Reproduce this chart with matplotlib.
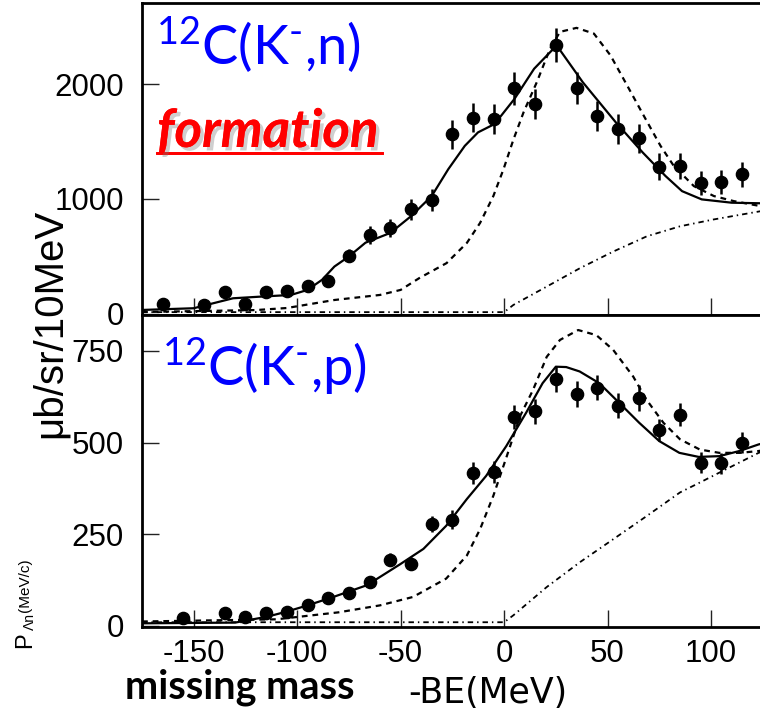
import matplotlib
matplotlib.use("Agg")
import matplotlib.pyplot as plt
import matplotlib.patheffects as pe
from matplotlib.lines import Line2D

plt.rcParams["font.family"] = ["Liberation Sans", "DejaVu Sans"]
plt.rcParams["mathtext.fontset"] = "custom"
plt.rcParams["mathtext.rm"] = "Lato"
plt.rcParams["mathtext.it"] = "Lato:italic"
plt.rcParams["mathtext.bf"] = "Lato:bold"

# ---------------- 12C(K-,n) spectrum ----------------
n_be = [-165, -145, -135, -125, -115, -105, -95, -85, -75, -65, -55, -45, -35,
        -25, -15, -5, 5, 15, 25, 35, 45, 55, 65, 75, 85, 95, 105, 115]
n_xs = [83, 75, 191, 83, 191, 200, 244, 285, 504, 686, 747, 908, 989,
        1563, 1709, 1697, 1967, 1829, 2340, 1967, 1726, 1610, 1528, 1282, 1288,
        1136, 1147, 1215]
n_err = [40, 40, 40, 40, 40, 40, 45, 45, 55, 75, 75, 90, 95,
         128, 128, 130, 143, 130, 148, 140, 132, 132, 123, 117, 114,
         105, 105, 110]

n_fit_be = [-175, -150, -142, -131, -118, -103, -95, -88, -82, -75, -67, -55,
            -45, -35, -27, -19, -12.6, -4.6, 5, 14.5, 25.4, 38, 54, 67, 78, 86,
            95.5, 110, 124, 143]
n_fit = [31, 46, 83, 133, 147, 162, 206, 294, 410, 498, 618, 703,
         849, 1025, 1259, 1463, 1581, 1654, 1873, 2136, 2340, 2019, 1668, 1405,
         1200, 1068, 996, 967, 962, 960]

n_qf_be = [-175, -120, -105, -82, -60, -50, -41, -27.8, -18, -11.6, -5.2, -0.3,
           4.5, 9.4, 15.8, 22.2, 27, 35, 43.4, 51.4, 59.5, 67.5, 75.6, 82,
           91.7, 101.4, 111, 124, 143]
n_qf = [13, 30, 48, 118, 162, 206, 309, 440, 616, 791, 1025, 1259,
        1518, 1756, 2019, 2311, 2458, 2493, 2443, 2253, 1989, 1726, 1463, 1288,
        1112, 1025, 981, 937, 920]

n_bg_be = [-175, -100, 0, 4.5, 20.6, 36.7, 52.9, 69, 85, 101, 124, 143]
n_bg = [12, 12, 12, 75, 235, 396, 542, 674, 761, 820, 893, 950]

# ---------------- 12C(K-,p) spectrum ----------------
p_be = [-155, -135, -125, -115, -105, -95, -85, -75, -65, -55, -45, -35, -25,
        -15, -5, 5, 15, 25, 35, 45, 55, 65, 75, 85, 95, 105, 115]
p_xs = [22, 34, 25, 34, 37, 56, 75, 91, 120, 181, 170, 278, 290,
        416, 420, 570, 585, 673, 633, 650, 601, 622, 534, 576, 445, 443, 500]
p_err = [12, 12, 12, 12, 12, 12, 14, 14, 15, 18, 18, 22, 25,
         30, 30, 32, 33, 35, 35, 35, 33, 35, 30, 32, 28, 28, 28]

p_fit_be = [-175, -130, -114.6, -105, -95, -82.5, -66.3, -50.3, -39, -28, -18,
            -8.7, 1, 10.6, 18.6, 25, 30, 36.5, 46, 55.7, 65.3, 75, 84.7, 94, 104,
            113.7, 123, 143]
p_fit = [7, 9, 25, 39, 56, 79, 111, 168, 210, 273, 346,
         409, 490, 581, 662, 707, 706, 694, 662, 608, 554, 504, 472, 461, 463,
         477, 495, 522]

p_qf_be = [-175, -110, -80, -60, -44, -28, -18, -11.6, -5.2, 1.3, 7.7, 14,
           20.6, 27, 35.8, 44.6, 52.7, 62.4, 68.8, 77, 85, 94.6, 104, 114, 123, 143]
p_qf = [12, 18, 37, 56, 79, 129, 192, 264, 355, 463, 572, 644,
        734, 780, 807, 793, 753, 680, 617, 554, 509, 481, 472, 472, 477, 495]

p_bg_be = [-175, -100, 0, 4.5, 20.6, 36.7, 52.9, 69, 85, 94.6, 104, 123, 143]
p_bg = [10, 10, 10, 29, 106, 174, 237, 300, 364, 391, 418, 472, 509]

x_ticks = [-150, -100, -50, 0, 50, 100]
x_ticklabels = ["-150", "-100", "-50", "0", "50", "100"]
n_yticks = [0, 1000, 2000]
p_yticks = [0, 250, 500, 750]

W, H = 760, 714
fig = plt.figure(figsize=(W / 100, H / 100), dpi=100)


def px_box(x0, y0, x1, y1):
    return [x0 / W, 1 - y1 / H, (x1 - x0) / W, (y1 - y0) / H]


def fx(x):
    return x / W


def fy(y):
    return 1 - y / H


ax_n = fig.add_axes(px_box(142, 3, 800, 315))
ax_p = fig.add_axes(px_box(142, 315, 800, 627))

for ax in (ax_n, ax_p):
    ax.set_xlim(-175, 143)
    for s in ax.spines.values():
        s.set_linewidth(2.0)
    ax.tick_params(direction="in", length=12, width=1.0, labelsize=22.5,
                   pad=13, color="#222222")
    ax.set_xticks(x_ticks)


def draw(ax, be, xs, err, fb, fv, qb, qv, bb, bv):
    ax.plot(fb, fv, color="black", lw=1.6, solid_joinstyle="round", zorder=3)
    ax.plot(qb, qv, color="black", lw=1.6, linestyle=(0, (2.6, 2.2)), zorder=3)
    ax.plot(bb, bv, color="black", lw=1.3, linestyle=(0, (3.0, 2.2, 0.8, 2.2)),
            zorder=3)
    ax.errorbar(be, xs, yerr=err, fmt="o", color="black", ms=8.8,
                elinewidth=1.8, capsize=0, zorder=4)


draw(ax_n, n_be, n_xs, n_err, n_fit_be, n_fit, n_qf_be, n_qf, n_bg_be, n_bg)
draw(ax_p, p_be, p_xs, p_err, p_fit_be, p_fit, p_qf_be, p_qf, p_bg_be, p_bg)

ax_n.set_ylim(-13, 2710)
ax_n.set_yticks(n_yticks)
ax_n.tick_params(axis="x", labelbottom=False)

ax_p.set_ylim(-3, 848)
ax_p.set_yticks(p_yticks)
ax_p.set_xticklabels(x_ticklabels)
ax_p.tick_params(axis="x", pad=9)

# reaction labels
fig.text(fx(156), fy(65), r"$^{12}$C(K$^{\text{-}}$,n)", color="#0000ff",
         fontsize=39, family="Lato", va="baseline")
fig.text(fx(162), fy(386), r"$^{12}$C(K$^{\text{-}}$,p)", color="#0000ff",
         fontsize=39, family="Lato", va="baseline")

# "formation" tag with soft shadow and underline
shadow = [pe.withSimplePatchShadow(offset=(2.5, -2.5), shadow_rgbFace="#777777",
                                   alpha=0.35), pe.Normal()]
fig.text(fx(157), fy(147), "formation", color="#ff0000", fontsize=38,
         family="Lato", weight="bold", style="italic", va="baseline",
         path_effects=shadow)
fig.add_artist(Line2D([fx(157), fx(382)], [fy(153), fy(153)],
                      color="#ff0000", lw=2.0, transform=fig.transFigure,
                      path_effects=shadow))

# shared y label
fig.text(fx(50), fy(323), "μb/sr/10MeV", rotation=90, fontsize=29,
         ha="center", va="center")

# x labels
fig.text(fx(125), fy(698), "missing mass", fontsize=28.5, family="Lato",
         weight="bold", va="baseline")
fig.text(fx(488), fy(703), "-BE(MeV)", fontsize=25, family="DejaVu Sans",
         ha="center", va="baseline")

# edge of the neighbouring panel's axis title
fig.text(fx(25), fy(640), "P", rotation=90, fontsize=17,
         ha="center", va="center")
fig.text(fx(30), fy(622), "Λn", rotation=90, fontsize=10,
         ha="center", va="center")
fig.text(fx(25), fy(585), "(MeV/c)", rotation=90, fontsize=11,
         ha="center", va="center")

fig.savefig("out.png", dpi=100)
